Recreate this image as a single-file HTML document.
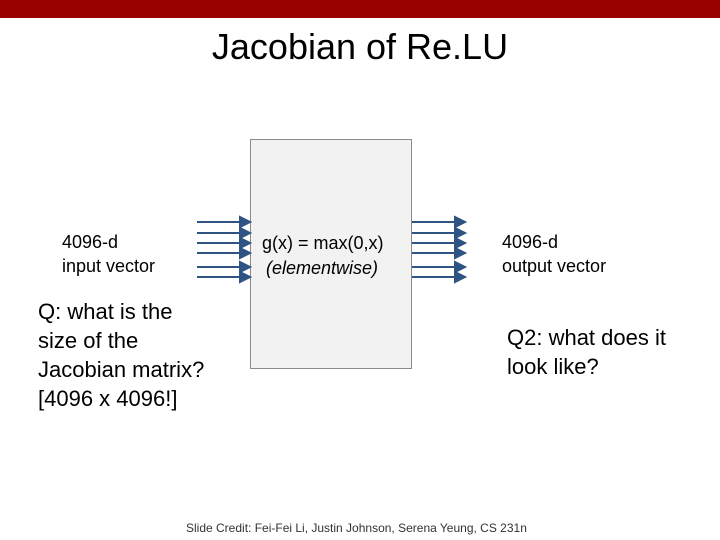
<!DOCTYPE html>
<html><head><style>
body{margin:0;width:720px;height:540px;background:#fff;position:relative;overflow:hidden;font-family:"Liberation Sans",sans-serif}
.t{position:absolute;white-space:nowrap;color:#000}
</style></head><body>
<div style="position:absolute;left:0;top:0;width:720px;height:18px;background:#990000"></div>
<div class="t" style="left:0;width:720px;text-align:center;top:26px;font-size:36px">Jacobian of Re.LU</div>
<div style="position:absolute;left:250px;top:139px;width:160px;height:228px;background:#f2f2f2;border:1px solid #8a8a8a"></div>
<svg width="720" height="540" style="position:absolute;left:0;top:0">
<g stroke="#2f5483" stroke-width="2" fill="#2f5483">
<g id="a">
<line x1="197" y1="222" x2="242" y2="222"/><polygon points="240,217 250,222 240,227"/>
<line x1="197" y1="233" x2="242" y2="233"/><polygon points="240,228 250,233 240,238"/>
<line x1="197" y1="243" x2="242" y2="243"/><polygon points="240,238 250,243 240,248"/>
<line x1="197" y1="253" x2="242" y2="253"/><polygon points="240,248 250,253 240,258"/>
<line x1="197" y1="267" x2="242" y2="267"/><polygon points="240,262 250,267 240,272"/>
<line x1="197" y1="277" x2="242" y2="277"/><polygon points="240,272 250,277 240,282"/>
</g>
<use href="#a" transform="translate(215,0)"/>
</g>
</svg>
<div class="t" style="left:262px;top:233px;font-size:18px">g(x) = max(0,x)</div>
<div class="t" style="left:266px;top:258px;font-size:18px;font-style:italic">(elementwise)</div>
<div class="t" style="left:62px;top:230px;font-size:18px;line-height:24px">4096-d<br>input vector</div>
<div class="t" style="left:502px;top:230px;font-size:18px;line-height:24px">4096-d<br>output vector</div>
<div class="t" style="left:38px;top:297px;font-size:22px;line-height:29px">Q: what is the<br>size of the<br>Jacobian matrix?<br>[4096 x 4096!]</div>
<div class="t" style="left:507px;top:323px;font-size:22px;line-height:29px">Q2: what does it<br>look like?</div>
<div class="t" style="left:186px;top:521px;font-size:12px;color:#333">Slide Credit: Fei-Fei Li, Justin Johnson, Serena Yeung, CS 231n</div>
</body></html>
